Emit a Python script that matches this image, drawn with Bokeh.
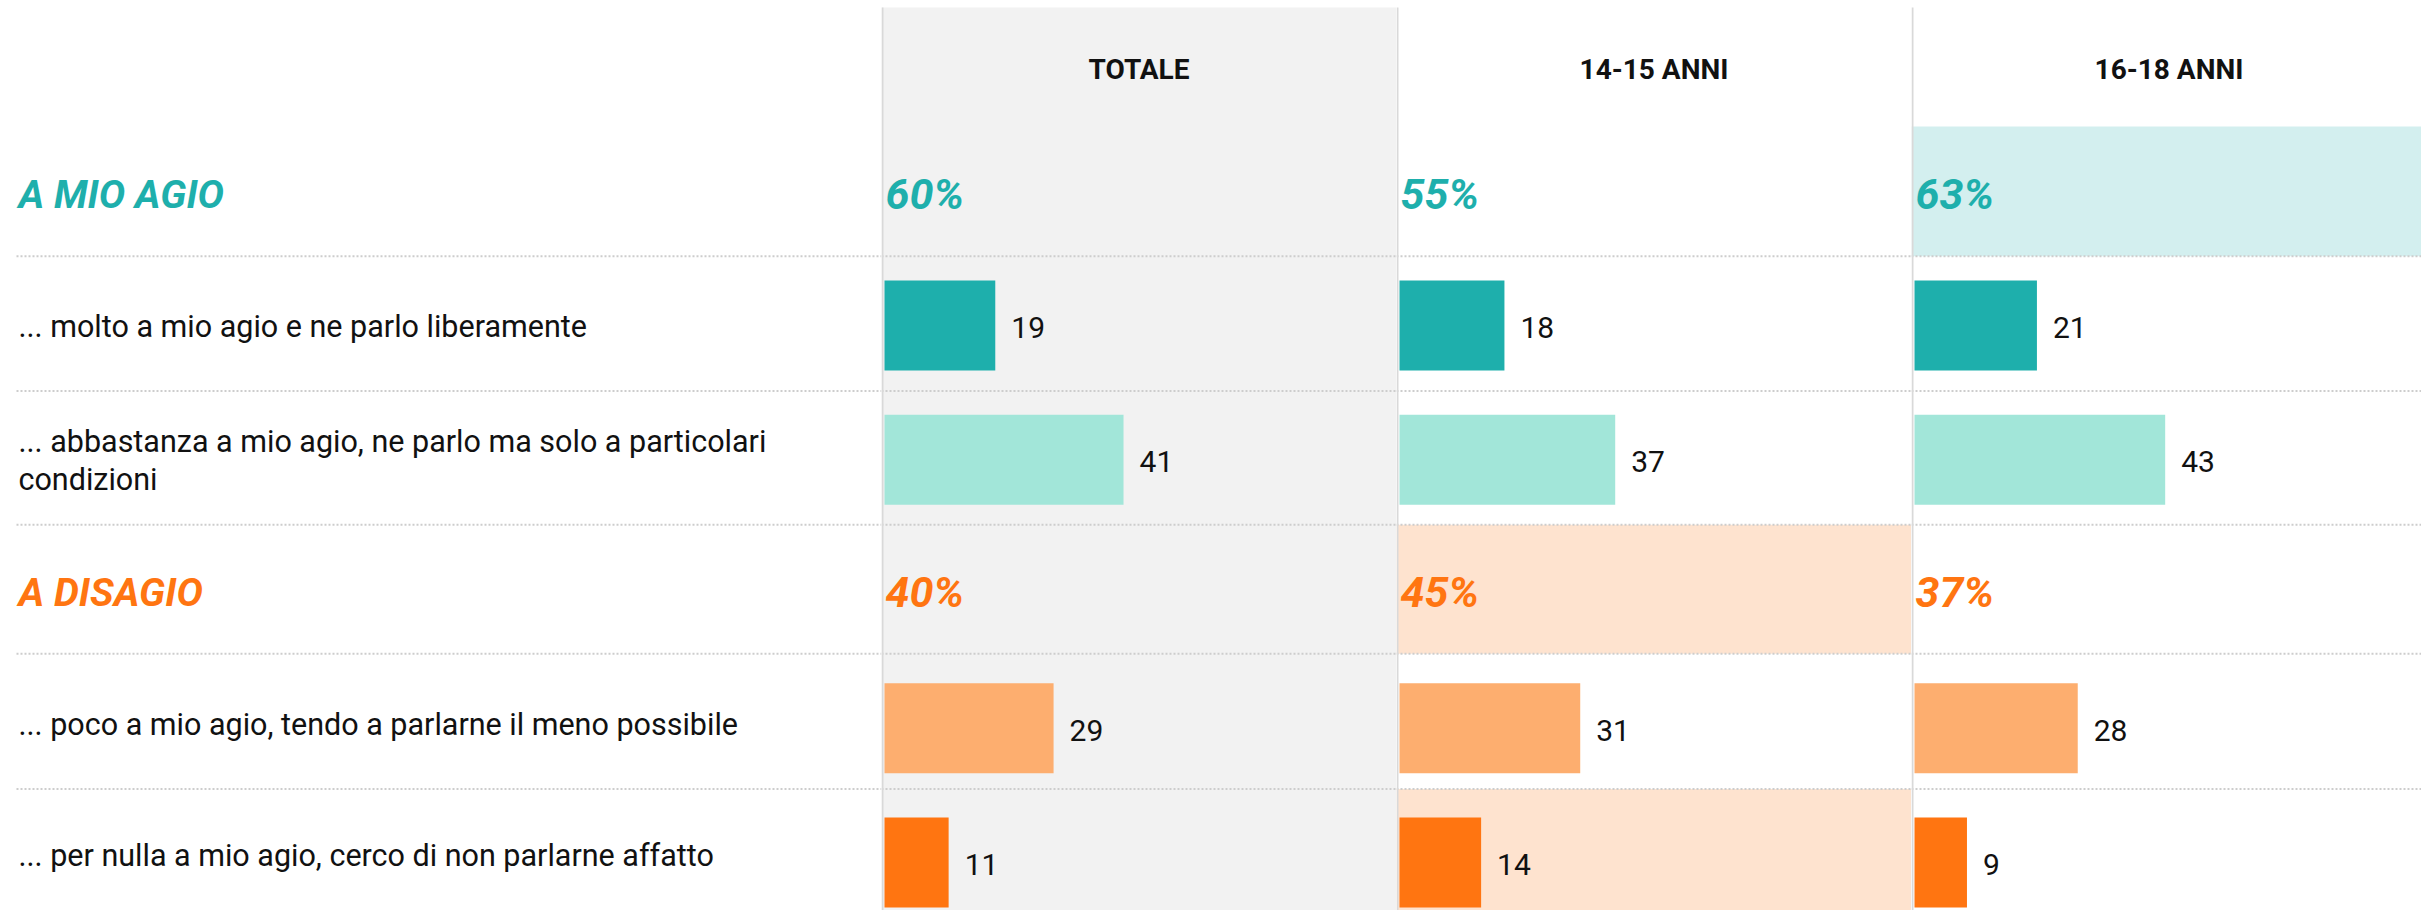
from bokeh.plotting import figure
from bokeh.layouts import row
from bokeh.models import Range1d, ColumnDataSource, Span
from bokeh.core.properties import value
from bokeh.embed import file_html
from bokeh.resources import INLINE

# ---------------- data ----------------
columns = ["TOTALE", "14-15 ANNI", "16-18 ANNI"]
group_labels = ["A MIO AGIO", "A DISAGIO"]
agio_totals = [60, 55, 63]
disagio_totals = [40, 45, 37]
item_labels = [
    "... molto a mio agio e ne parlo liberamente",
    "... abbastanza a mio agio, ne parlo ma solo a particolari\ncondizioni",
    "... poco a mio agio, tendo a parlarne il meno possibile",
    "... per nulla a mio agio, cerco di non parlarne affatto",
]
molto = [19, 18, 21]
abbastanza = [41, 37, 43]
poco = [29, 31, 28]
per_nulla = [11, 14, 9]
# highlighted cells (column index, row index: 0 agio, 1 molto, 2 abbastanza, 3 disagio, 4 poco, 5 per nulla)
highlight_col = [2, 1, 1]
highlight_row = [0, 3, 5]

# ---------------- style / layout ----------------
FONT = value("Roboto")
GRAY_BG = "#f2f2f2"
DIVIDER = "#d9d9d9"
SEP = "#cdcdcd"
TEAL = "#1eafac"
TEAL_LIGHT = "#a2e6d9"
TEAL_HL = "#d3efef"
ORANGE = "#ff7511"
ORANGE_LIGHT = "#fdae6f"
ORANGE_HL = "#fee3cf"
TXT = "#111111"

TOTAL_W = 2421
H = 910
LEFT_W = 881
COL_W = 515
COL_WIDTHS = [COL_W, COL_W, TOTAL_W - LEFT_W - 2 * COL_W]
PX_PER_UNIT = 5.83
BAR_OFFSET = 3
BAR_H = 90
ROW_EDGES = [126, 255.7, 390.4, 524.3, 653.3, 788.5, 917]
TOP_EDGE = 7
BAR_C0 = 190.75
PITCH = 134.25
HEADER_Y = 68.5
TEXT_DY = 2.7
LINE_GAP = 38

row_mid = [(ROW_EDGES[i] + ROW_EDGES[i + 1]) / 2 for i in range(6)]
bar_center = [BAR_C0 + i * PITCH for i in range(6)]
seps = ROW_EDGES[1:6]

item_rows = [1, 2, 4, 5]
item_colors = [TEAL, TEAL_LIGHT, ORANGE_LIGHT, ORANGE]
series = [molto, abbastanza, poco, per_nulla]
group_rows = [0, 3]
group_colors = [TEAL, ORANGE]


def base_fig(w, xr):
    p = figure(width=w, height=H, x_range=xr, y_range=Range1d(H, 0),
               output_backend="svg", toolbar_location=None, min_border=0,
               background_fill_color="white", border_fill_color="white",
               outline_line_color=None)
    p.axis.visible = False
    p.xgrid.visible = False
    p.ygrid.visible = False
    return p


# ---------------- left label panel ----------------
left = base_fig(LEFT_W, Range1d(0, LEFT_W))
left.segment(x0=[16] * len(seps), x1=[LEFT_W] * len(seps), y0=seps, y1=seps,
             line_color=SEP, line_width=2, line_dash="2 2")
left.text(x=[18, 18], y=[row_mid[r] + TEXT_DY for r in group_rows], text=group_labels,
          text_color=group_colors, text_font=FONT, text_font_size="39.5px",
          text_font_style="bold italic", text_baseline="middle", text_align="left")
lx, ly, lt = [], [], []
for lab, r in zip(item_labels, item_rows):
    lines = lab.split("\n")
    n = len(lines)
    for k, ln in enumerate(lines):
        lx.append(18)
        ly.append(row_mid[r] + TEXT_DY + (k - (n - 1) / 2) * LINE_GAP)
        lt.append(ln)
left.text(x=lx, y=ly, text=lt, text_color=TXT, text_font=FONT, text_font_size="30.5px",
          text_baseline="middle", text_align="left")

figs = [left]

# ---------------- value columns ----------------
for ci, w in enumerate(COL_WIDTHS):
    x0 = -BAR_OFFSET / PX_PER_UNIT
    x1 = (w - BAR_OFFSET) / PX_PER_UNIT
    p = base_fig(w, Range1d(x0, x1))

    if ci == 0:
        p.quad(left=x0, right=x1, top=TOP_EDGE, bottom=H, fill_color=GRAY_BG, line_color=None)

    for hc, hr in zip(highlight_col, highlight_row):
        if hc == ci:
            p.quad(left=x0, right=x1, top=ROW_EDGES[hr], bottom=ROW_EDGES[hr + 1],
                   fill_color=TEAL_HL if hr < 3 else ORANGE_HL, line_color=None)

    p.segment(x0=[x0] * len(seps), x1=[x1] * len(seps), y0=seps, y1=seps,
              line_color=SEP, line_width=2, line_dash="2 2")
    p.segment(x0=[x0 + 1 / PX_PER_UNIT], x1=[x0 + 1 / PX_PER_UNIT], y0=[TOP_EDGE], y1=[H],
              line_color=DIVIDER, line_width=2)

    vals = [s[ci] for s in series]
    src = ColumnDataSource(dict(
        y=[bar_center[r] for r in item_rows],
        ty=[bar_center[r] + 2 for r in item_rows],
        v=vals, lab=[str(v) for v in vals], c=item_colors))
    p.hbar(y="y", left=0, right="v", height=BAR_H, fill_color="c", line_color=None, source=src)
    p.text(x="v", y="ty", text="lab", x_offset=16, text_color=TXT, text_font=FONT,
           text_font_size="30px", text_baseline="middle", text_align="left", source=src)

    totals = [agio_totals[ci], disagio_totals[ci]]
    p.text(x=[0, 0], y=[row_mid[r] + TEXT_DY for r in group_rows], text=[f"{t}%" for t in totals],
           x_offset=1, text_color=group_colors, text_font=FONT, text_font_size="43px",
           text_font_style="bold italic", text_baseline="middle", text_align="left")

    p.text(x=[(COL_W / 2 - BAR_OFFSET) / PX_PER_UNIT], y=[HEADER_Y], text=[columns[ci]],
           text_color=TXT, text_font=FONT, text_font_size="28px", text_font_style="bold",
           text_baseline="middle", text_align="center")
    figs.append(p)

layout = row(*figs, spacing=0)
open("out.html", "w").write(file_html(layout, INLINE))
